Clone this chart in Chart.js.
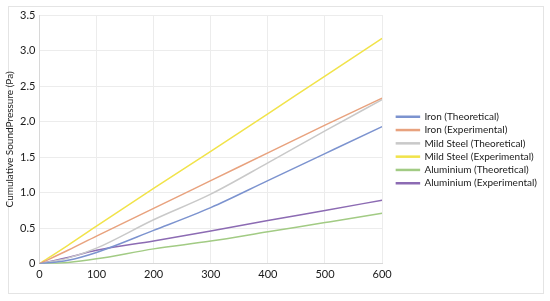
<!DOCTYPE html>
<html>
<head>
<meta charset="utf-8">
<script src="https://cdn.jsdelivr.net/npm/chart.js@4.4.1/dist/chart.umd.min.js"></script>
<style>
  html, body { margin: 0; padding: 0; background: #fff; }
  #frame { position: absolute; left: 8px; top: 6px; width: 534px; height: 286px; border: 1px solid #e4e4e4; }
  #wrap { position: absolute; left: 0; top: 0; width: 550px; height: 301px; }
</style>
</head>
<body>
<div id="frame"></div>
<div id="wrap"><canvas id="chart"></canvas></div>
<script>
// distance values (x axis)
const xValues = [0, 50, 100, 200, 300, 400, 500, 600];

// cumulative sound pressure (Pa)
const ironTheoretical = [0, 0.05, 0.16, 0.47, 0.79, 1.17, 1.55, 1.93];
const ironExperimental = [0, 0.19, 0.39, 0.78, 1.17, 1.56, 1.95, 2.33];
const steelTheoretical = [0, 0.08, 0.22, 0.62, 0.98, 1.42, 1.87, 2.31];
const steelExperimental = [0, 0.26, 0.53, 1.06, 1.58, 2.11, 2.64, 3.17];
const aluTheoretical = [0, 0.02, 0.07, 0.21, 0.32, 0.45, 0.58, 0.71];
const aluExperimental = [0, 0.09, 0.19, 0.32, 0.46, 0.61, 0.75, 0.895];

const seriesNames = [
  'Iron (Theoretical)',
  'Iron (Experimental)',
  'Mild Steel (Theoretical)',
  'Mild Steel (Experimental)',
  'Aluminium (Theoretical)',
  'Aluminium (Experimental)'
];
const seriesValues = [ironTheoretical, ironExperimental, steelTheoretical, steelExperimental, aluTheoretical, aluExperimental];
const colors = ['#7c93cf', '#e8a27e', '#c9c9c9', '#f1e34a', '#a2cb84', '#8c6bb3'];

const yTicks = [0, 0.5, 1, 1.5, 2, 2.5, 3, 3.5];

const font = "Lato, 'Open Sans', sans-serif";

const datasets = seriesNames.map((name, i) => ({
  label: name,
  data: xValues.map((x, j) => ({ x: x, y: seriesValues[i][j] })),
  borderColor: colors[i],
  backgroundColor: colors[i],
  borderWidth: 1.5,
  pointRadius: 0,
  tension: 0.3,
  cubicInterpolationMode: 'monotone'
}));

// nudge the legend a bit away from the plot, like the original
const legendShift = {
  id: 'legendShift',
  afterLayout(chart) {
    chart.legend.left += 11;
    chart.legend.right += 11;
  }
};

new Chart(document.getElementById('chart'), {
  type: 'line',
  data: { datasets },
  plugins: [legendShift],
  options: {
    responsive: true,
    maintainAspectRatio: false,
    animation: false,
    layout: { padding: { left: 4, top: 15, right: 14, bottom: 16 } },
    plugins: {
      legend: {
        position: 'right',
        maxWidth: 200,
        labels: {
          color: '#1a1a1a',
          font: { family: font, size: 10 },
          boxWidth: 23,
          boxHeight: 1,
          padding: 3.3
        }
      },
      tooltip: { enabled: false }
    },
    scales: {
      x: {
        type: 'linear',
        min: 0,
        max: 600,
        grid: { color: '#ececec', drawTicks: false },
        border: { color: '#d8d8d8' },
        ticks: {
          stepSize: 100,
          color: '#1a1a1a',
          padding: 4,
          font: { family: font, size: 11 }
        }
      },
      y: {
        min: 0,
        max: 3.5,
        afterBuildTicks: (axis) => { axis.ticks = yTicks.map(v => ({ value: v })); },
        grid: { color: '#ececec', drawTicks: false },
        border: { color: '#d8d8d8' },
        title: {
          display: true,
          text: 'Cumulative SoundPressure (Pa)',
          color: '#1a1a1a',
          padding: 0,
          font: { family: font, size: 10 }
        },
        ticks: {
          color: '#1a1a1a',
          padding: 4,
          font: { family: font, size: 11 }
        }
      }
    }
  }
});
</script>
</body>
</html>
